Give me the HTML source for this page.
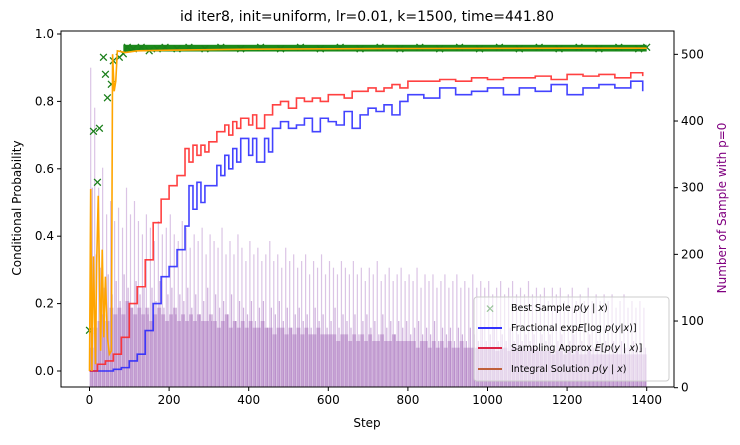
<!DOCTYPE html>
<html><head><meta charset="utf-8">
<style>
body{margin:0;background:#fff;font-family:"Liberation Sans","DejaVu Sans",sans-serif;}
svg text{font-family:"DejaVu Sans","Liberation Sans",sans-serif;}
</style></head>
<body>
<svg id="chart" width="740" height="440" viewBox="0 0 740 440" xmlns="http://www.w3.org/2000/svg">
<rect width="740" height="440" fill="#fff"/>
<g id="bars"></g>
<g id="lines"></g>
<g id="axes"></g>
<text x="367" y="21" font-size="14" text-anchor="middle" fill="#000">id iter8, init=uniform, lr=0.01, k=1500, time=441.80</text>
<text x="367" y="427" font-size="12" text-anchor="middle">Step</text>
<text transform="translate(21,208) rotate(-90)" font-size="12" text-anchor="middle">Conditional Probability</text>
<text transform="translate(726,208) rotate(-90)" font-size="12" text-anchor="middle" fill="#800080">Number of Sample with p=0</text>
<g>
<rect x="474" y="297" width="195" height="84" rx="3" fill="#fff" fill-opacity="0.6" stroke="#ccc"/>
<text x="490" y="313" font-size="12" fill="#2a8a2a" opacity="0.45" text-anchor="middle">✕</text>
<text x="511" y="311" font-size="9.5">Best Sample <tspan font-style="italic">p</tspan>(<tspan font-style="italic">y</tspan> | <tspan font-style="italic">x</tspan>)</text>
<line x1="478" y1="328" x2="502" y2="328" stroke="#3333ff" stroke-width="2"/>
<text x="511" y="331" font-size="9.5">Fractional exp<tspan font-style="italic">E</tspan>[log <tspan font-style="italic">p</tspan>(<tspan font-style="italic">y</tspan>|<tspan font-style="italic">x</tspan>)]</text>
<line x1="478" y1="348" x2="502" y2="348" stroke="#dd2244" stroke-width="2"/>
<text x="511" y="351" font-size="9.5">Sampling Approx <tspan font-style="italic">E</tspan>[<tspan font-style="italic">p</tspan>(<tspan font-style="italic">y</tspan> | <tspan font-style="italic">x</tspan>)]</text>
<line x1="478" y1="369" x2="502" y2="369" stroke="#c0603a" stroke-width="2"/>
<text x="511" y="372" font-size="9.5">Integral Solution <tspan font-style="italic">p</tspan>(<tspan font-style="italic">y</tspan> | <tspan font-style="italic">x</tspan>)</text>
</g>
</svg>
<script>
const xTicks=[0,200,400,600,800,1000,1200,1400];
const yTicks=[0.0,0.2,0.4,0.6,0.8,1.0];
const y2Ticks=[0,100,200,300,400,500];
// histogram, per 10-step bin (counts)
const barPeak=[480,420,300,330,260,280,250,270,240,300,260,280,250,230,260,240,220,250,230,240,260,230,220,250,240,210,230,220,240,200,230,220,210,240,200,220,200,230,210,190,220,200,210,190,200,220,190,200,180,210,190,200,180,190,200,170,190,180,200,170,190,180,170,190,180,170,190,170,180,160,180,170,190,160,170,180,160,170,180,160,170,160,180,150,170,160,170,150,160,170,150,160,170,150,160,150,170,150,160,150,160,140,150,160,140,150,160,140,150,140,160,140,150,140,150,130,150,140,150,130,140,150,130,140,130,150,130,140,130,140,130,140,120,130,140,120,130,120,130,120];
const barMid=[300,200,180,150,170,140,160,130,170,150,120,160,140,150,110,150,130,160,120,140,150,110,140,130,150,120,140,110,130,150,100,140,120,130,110,140,100,130,120,110,130,100,120,130,90,120,110,130,100,120,90,110,120,100,110,90,120,100,110,90,100,120,90,110,100,90,110,80,100,110,90,100,80,110,90,100,80,100,90,100,80,90,100,80,90,80,100,70,90,80,90,70,90,80,70,90,80,70,90,70,80,90,70,80,70,90,70,80,70,80,70,80,60,80,70,80,60,70,80,60,70,80,60,70,60,80,60,70,60,70,60,70,60,70,60,60,70,60,60,60];
const barBase=[60,90,100,110,100,120,110,120,110,130,120,110,120,110,120,100,110,120,110,100,110,120,100,110,100,110,100,110,100,100,110,100,90,100,110,90,100,90,100,90,100,90,90,100,90,90,80,90,90,80,90,80,90,80,90,80,80,90,80,80,80,80,70,80,80,70,80,70,80,70,80,70,70,80,70,70,80,70,70,70,70,70,60,70,70,60,70,60,70,60,70,60,60,70,60,60,60,60,60,60,60,60,55,60,60,55,60,55,60,55,55,60,55,55,55,55,50,55,55,50,55,50,55,50,50,55,50,50,50,50,50,50,50,50,50,50,50,50,50,50];
const redX=[0,20,40,60,80,100,120,140,160,180,200,220,240,250,260,270,280,290,300,320,340,350,360,370,380,400,410,420,440,460,480,500,520,540,560,580,600,620,640,660,680,700,720,740,760,780,800,840,880,920,960,1000,1040,1080,1120,1160,1200,1240,1280,1320,1360,1390];
const redY=[0,0.02,0.03,0.05,0.10,0.20,0.25,0.33,0.44,0.51,0.55,0.58,0.66,0.62,0.67,0.64,0.67,0.65,0.68,0.71,0.73,0.70,0.74,0.72,0.75,0.73,0.76,0.72,0.76,0.79,0.80,0.78,0.81,0.80,0.81,0.80,0.82,0.82,0.81,0.83,0.83,0.84,0.83,0.84,0.85,0.84,0.86,0.86,0.865,0.86,0.87,0.865,0.87,0.87,0.875,0.865,0.88,0.875,0.88,0.87,0.885,0.875];
const blueX=[0,60,80,100,120,140,160,180,200,220,240,250,260,270,280,290,300,320,330,340,350,360,370,380,400,410,420,440,450,460,480,500,520,540,560,580,600,620,640,660,680,700,720,740,760,780,800,840,880,920,960,1000,1040,1080,1120,1160,1200,1240,1280,1320,1360,1390];
const blueY=[0,0.005,0.01,0.03,0.05,0.12,0.20,0.28,0.31,0.36,0.43,0.55,0.48,0.56,0.50,0.55,0.55,0.61,0.58,0.64,0.60,0.66,0.62,0.69,0.64,0.69,0.62,0.69,0.65,0.72,0.74,0.72,0.73,0.75,0.71,0.75,0.74,0.73,0.77,0.72,0.76,0.78,0.77,0.79,0.76,0.80,0.82,0.81,0.84,0.82,0.83,0.84,0.82,0.84,0.83,0.85,0.82,0.84,0.85,0.84,0.86,0.83];
const orangeX=[0,3,6,10,15,18,22,28,32,36,40,45,50,55,58,62,66,70,90,120,200,400,800,1200,1400];
const orangeY=[0,0.54,0,0.34,0.02,0.32,0.52,0.06,0.36,0.1,0.28,0.1,0.05,0.06,0.94,0.83,0.86,0.95,0.945,0.95,0.952,0.955,0.957,0.958,0.958];
const greenX=[0,10,20,25,35,40,45,55,60,75,85,95,110,130,150,170,190,220,250,290,330,380,430,480,530,580,630,680,730,780,830,880,930,980,1030,1080,1130,1180,1230,1280,1330,1380,1400];
const greenY=[0.12,0.71,0.56,0.72,0.93,0.88,0.81,0.85,0.92,0.93,0.94,0.96,0.955,0.96,0.95,0.955,0.96,0.955,0.96,0.955,0.96,0.955,0.96,0.955,0.96,0.955,0.96,0.955,0.96,0.955,0.96,0.955,0.96,0.955,0.96,0.955,0.96,0.955,0.96,0.955,0.96,0.955,0.96];

const NS='http://www.w3.org/2000/svg';
const L=61,R=674,T=31,B=387;
const xs=v=>89.5+v*(646.7-89.5)/1400;
const ys=v=>371-v*337;
const y2s=v=>387.7-v*0.6667;
function mk(tag,attrs,parent){const e=document.createElementNS(NS,tag);for(const k in attrs)e.setAttribute(k,attrs[k]);parent.appendChild(e);return e;}
const bars=document.getElementById('bars'),lines=document.getElementById('lines'),axes=document.getElementById('axes');
barPeak.forEach((v,i)=>{
 const x=xs(i*10+3);
 const r=mk('rect',{x:x-0.6,y:y2s(v),width:1.2,height:B-y2s(v),fill:'#b07cc6','fill-opacity':0.45},bars);
 
 
});
barMid.forEach((v,i)=>{
 const x=xs(i*10+7);
 const r=mk('rect',{x:x-0.6,y:y2s(v),width:1.2,height:B-y2s(v),fill:'#a064bc','fill-opacity':0.5},bars);
 
 
});
barBase.forEach((v,i)=>{
 const x=xs(i*10+5);
 const r=mk('rect',{x:x-2,y:y2s(v),width:4,height:B-y2s(v),fill:'#9a5cb2','fill-opacity':0.4},bars);
 
 
});
function stepPath(X,Y){let d='M'+xs(X[0])+','+ys(Y[0]);for(let i=1;i<X.length;i++){d+=' H'+xs(X[i])+' V'+ys(Y[i]);}return d;}
function linePath(X,Y){return X.map((x,i)=>(i?'L':'M')+xs(x)+','+ys(Y[i])).join(' ');}
const gband=mk('rect',{x:xs(85),y:ys(0.968),width:xs(1400)-xs(85),height:ys(0.948)-ys(0.968),fill:'#1a8a1a'},lines);


greenX.forEach((x,i)=>{
 const t=mk('text',{x:xs(x),y:ys(greenY[i])+4.5,'font-size':13,'font-weight':'bold','text-anchor':'middle',fill:'#1a7f1a'},lines);
 t.textContent='✕';
 
 
});
const pb=mk('path',{d:stepPath(blueX,blueY),fill:'none',stroke:'#2222ff','stroke-width':1.6,'stroke-opacity':0.85},lines);


const pr=mk('path',{d:stepPath(redX,redY),fill:'none',stroke:'#ff2020','stroke-width':1.6,'stroke-opacity':0.85},lines);


const po=mk('path',{d:linePath(orangeX,orangeY),fill:'none',stroke:'#ffa500','stroke-width':1.6},lines);


const fr=mk('rect',{x:L,y:T,width:R-L,height:B-T,fill:'none',stroke:'#000','stroke-width':1},axes);


xTicks.forEach(v=>{
 const l=mk('line',{x1:xs(v),x2:xs(v),y1:B,y2:B+4,stroke:'#000'},axes);
 
 
 const t=mk('text',{x:xs(v),y:B+17,'font-size':12,'text-anchor':'middle'},axes);
 t.textContent=v;
 
 
});
yTicks.forEach(v=>{
 const l=mk('line',{x1:L-4,x2:L,y1:ys(v),y2:ys(v),stroke:'#000'},axes);
 
 
 const t=mk('text',{x:L-7,y:ys(v)+4,'font-size':12,'text-anchor':'end'},axes);
 t.textContent=v.toFixed(1);
 
 
});
y2Ticks.forEach(v=>{
 const l=mk('line',{x1:R,x2:R+4,y1:y2s(v),y2:y2s(v),stroke:'#000'},axes);
 
 
 const t=mk('text',{x:R+7,y:y2s(v)+4,'font-size':12,'text-anchor':'start'},axes);
 t.textContent=v;
 
 
});
</script>
</body></html>
